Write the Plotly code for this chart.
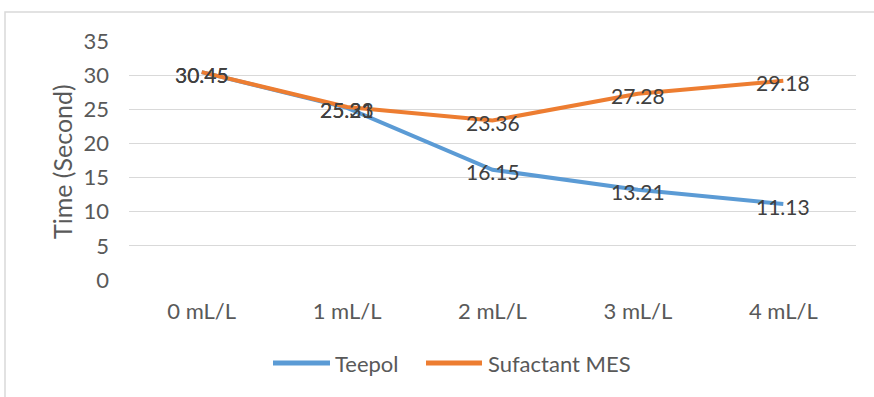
import plotly.graph_objects as go

categories = ["0 mL/L", "1 mL/L", "2 mL/L", "3 mL/L", "4 mL/L"]
teepol = [30.45, 25.21, 16.15, 13.21, 11.13]
mes = [30.45, 25.33, 23.36, 27.28, 29.18]
y_ticks = [0, 5, 10, 15, 20, 25, 30, 35]
series_names = ["Teepol", "Sufactant MES"]

BLUE = "#5B9BD5"
ORANGE = "#ED7D31"
FONT = "Lato"

fig = go.Figure()
fig.add_trace(go.Scatter(x=categories, y=teepol, mode="lines", name=series_names[0],
                         line=dict(color=BLUE, width=4), showlegend=False))
fig.add_trace(go.Scatter(x=categories, y=mes, mode="lines", name=series_names[1],
                         line=dict(color=ORANGE, width=4), showlegend=False))
for vals in (teepol, mes):
    for c, v in zip(categories, vals):
        fig.add_annotation(x=c, y=v, text=f"{v:.2f}", showarrow=False,
                           xanchor="center", yanchor="middle", yshift=-2,
                           font=dict(family=FONT, size=21, color="#404040"))

L, R, T, B = 129, 856, 41, 280
W, H = 874, 397
pw, ph = R - L, B - T

def px(x):
    return (x - L) / pw

def py(y):
    return (B - y) / ph

fig.add_shape(type="rect", xref="paper", yref="paper",
              x0=px(5), x1=px(W + 10), y0=py(H + 10), y1=py(12),
              line=dict(color="#D9D9D9", width=1.5), fillcolor="rgba(0,0,0,0)", layer="below")

fig.add_annotation(text="Time (Second)", xref="paper", yref="paper",
                   x=px(62), y=py(162), textangle=-90,
                   showarrow=False, xanchor="center", yanchor="middle",
                   font=dict(family=FONT, size=25, color="#595959"))

# custom legend (longer line samples as in the reference)
legend_items = [(series_names[0], BLUE, 273, 330, 333), (series_names[1], ORANGE, 426, 482, 486)]
for name, col, lx0, lx1, tx in legend_items:
    fig.add_shape(type="line", xref="paper", yref="paper",
                  x0=px(lx0), x1=px(lx1), y0=py(363), y1=py(363),
                  line=dict(color=col, width=5))
    fig.add_annotation(text=name, xref="paper", yref="paper", x=px(tx), y=py(363),
                       showarrow=False, xanchor="left", yanchor="middle",
                       font=dict(family=FONT, size=22, color="#595959"))

fig.update_layout(
    width=W, height=H,
    margin=dict(l=L, r=W - R, t=T, b=H - B, autoexpand=False),
    paper_bgcolor="white", plot_bgcolor="white",
    font=dict(family=FONT, size=22, color="#595959"),
    xaxis=dict(type="category", showgrid=False, zeroline=False, showline=False,
               ticks="", tickfont=dict(size=22, color="#595959"),
               range=[-0.5, 4.5], automargin=False, ticklabelstandoff=16),
    yaxis=dict(range=[0, 35], tickvals=y_ticks, showgrid=True, gridcolor="#D9D9D9",
               gridwidth=1, zeroline=False, showline=False, ticks="",
               tickfont=dict(size=22, color="#595959"), automargin=False,
               ticklabelstandoff=19),
    showlegend=False,
)

fig.write_html("out.html", config={"displayModeBar": False},
               post_script="document.body.style.margin='0';document.body.style.overflow='hidden';")
